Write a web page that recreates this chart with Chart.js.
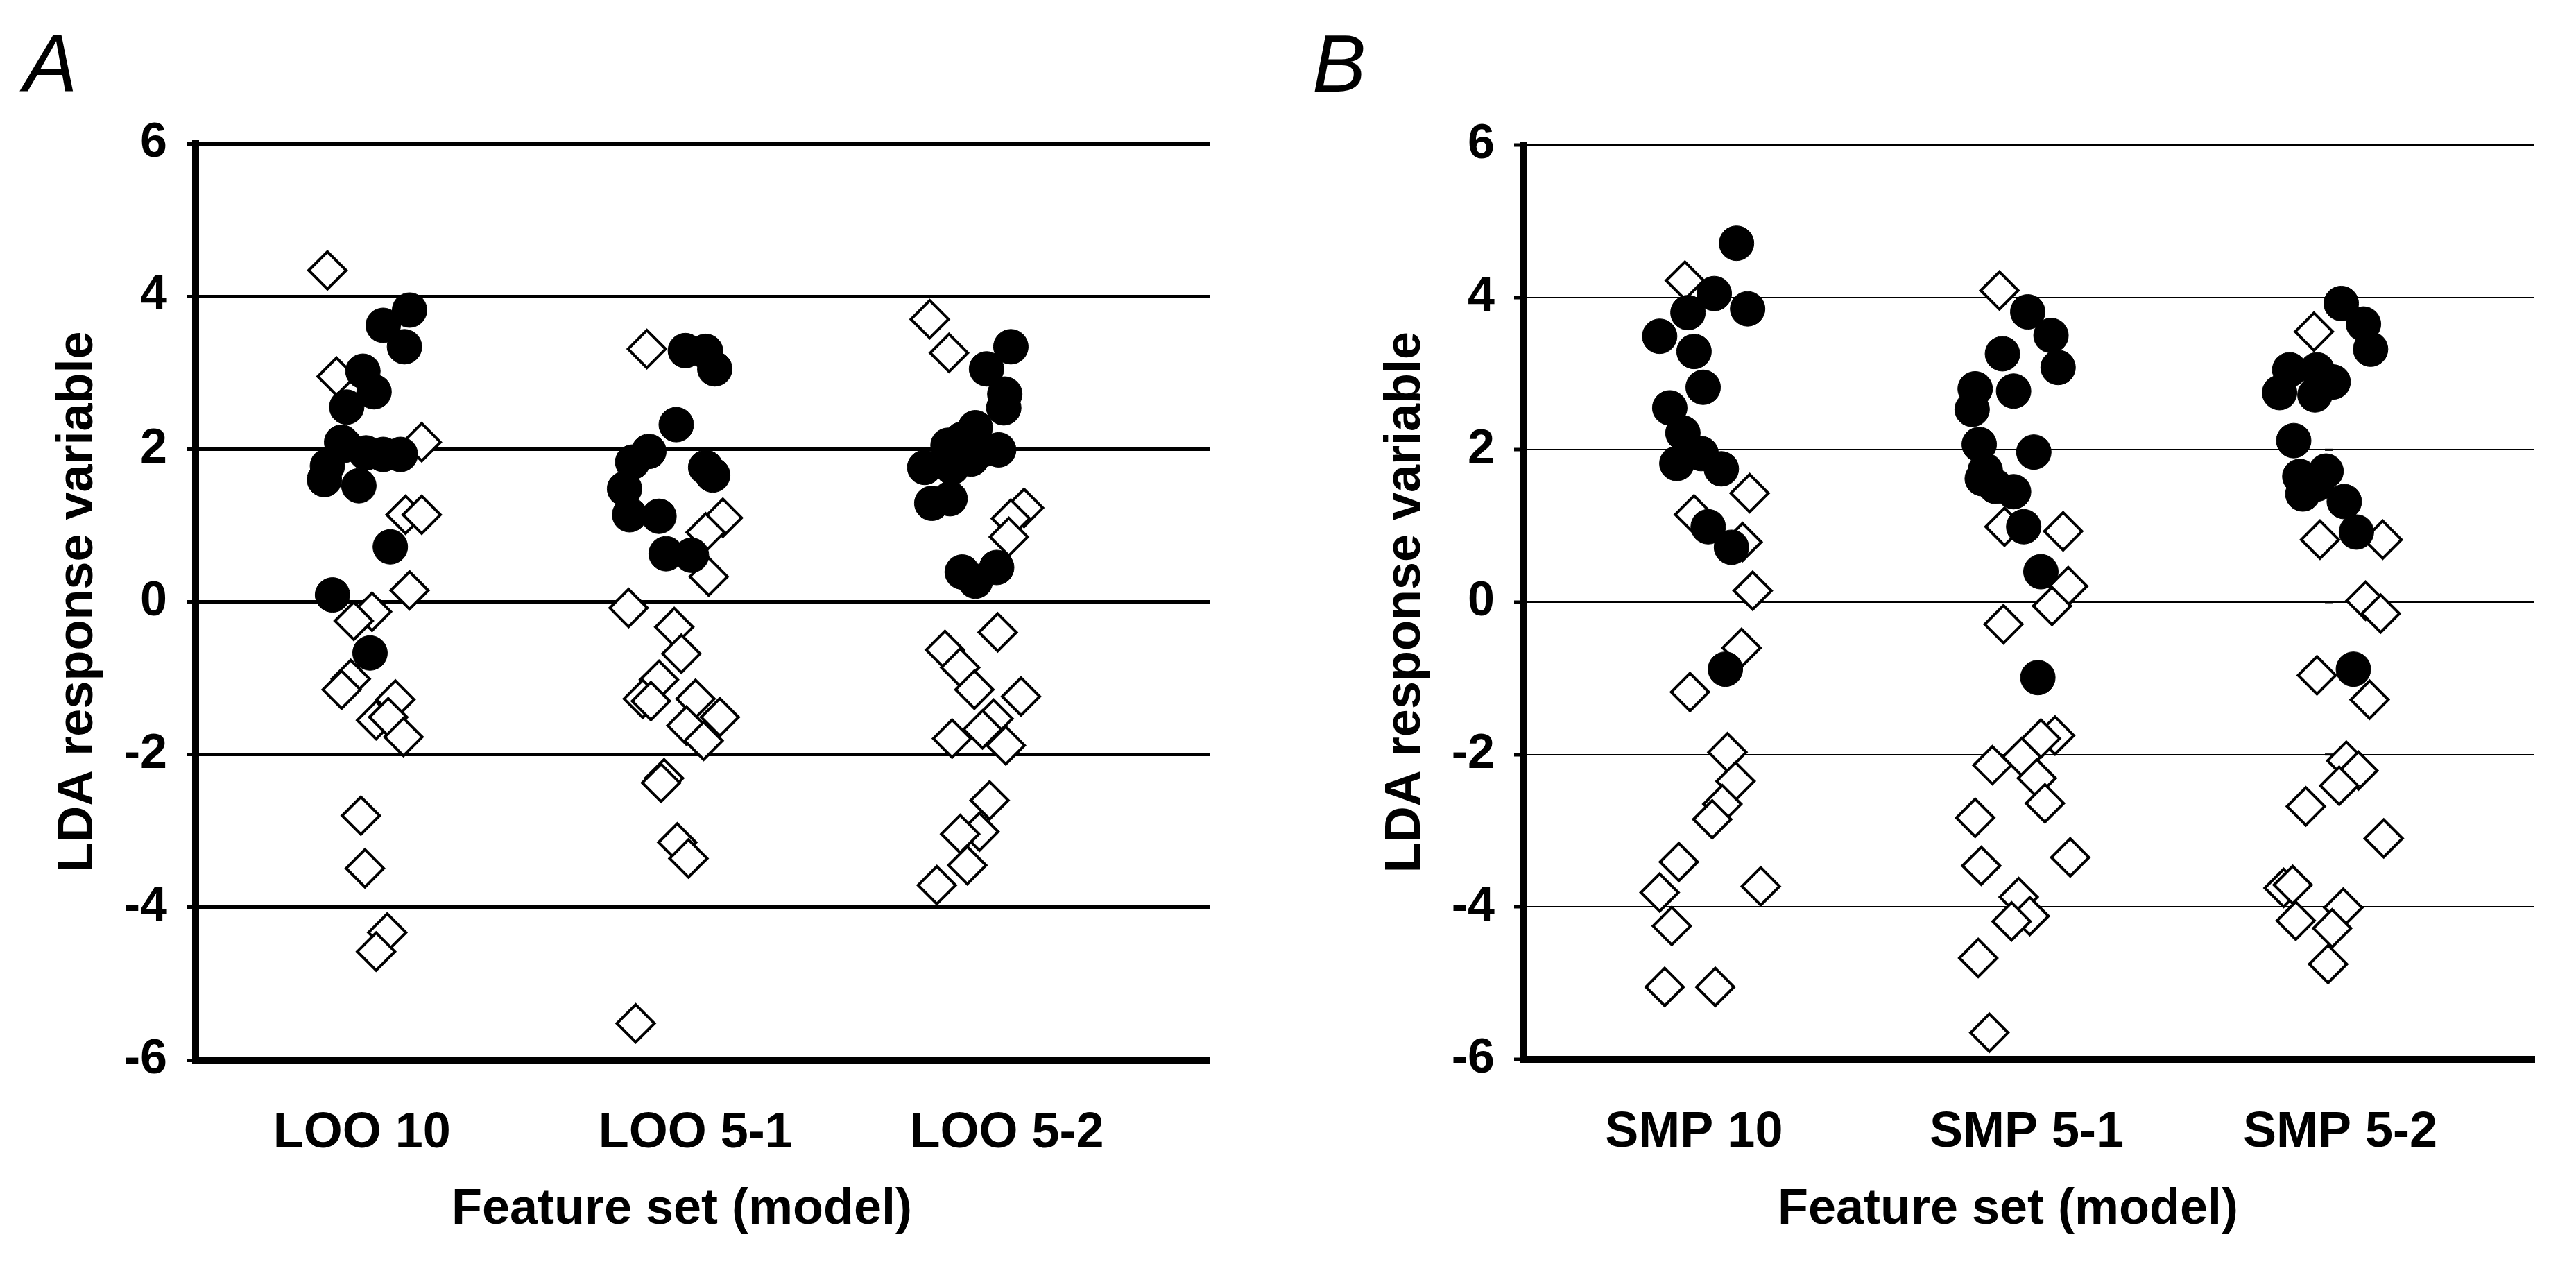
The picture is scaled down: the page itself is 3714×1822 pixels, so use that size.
<!DOCTYPE html>
<html>
<head>
<meta charset="utf-8">
<script src="https://cdn.jsdelivr.net/npm/chart.js@4.4.1/dist/chart.umd.min.js"></script>
<style>
  html, body { margin: 0; padding: 0; background: #fff; }
  body { width: 3714px; height: 1822px; position: relative; overflow: hidden; }
  canvas { position: absolute; top: 0; }
  #cA { left: 0; }
  #cB { left: 1857px; }
  .panel { position: absolute; top: 34px; font-family: "Liberation Sans", Arial, sans-serif;
           font-style: italic; font-size: 116px; line-height: 116px; color: #000; }
</style>
</head>
<body>
<div class="panel" style="left:34px">A</div>
<div class="panel" style="left:1892px">B</div>
<canvas id="cA" width="1857" height="1822"></canvas>
<canvas id="cB" width="1857" height="1822"></canvas>
<script>
// ---------- data ----------
const categoriesA = ['LOO 10', 'LOO 5-1', 'LOO 5-2'];
const categoriesB = ['SMP 10', 'SMP 5-1', 'SMP 5-2'];
const catPosA = [1.64, 4.93, 8.00];
const catPosB = [1.69, 4.98, 8.08];
const yTickValues = [-6, -4, -2, 0, 2, 4, 6];

// [jittered x position, LDA response]
const loo10Filled = [[2.11,3.82],[1.85,3.62],[2.06,3.34],[1.65,3.02],[1.76,2.75],[1.49,2.55],[1.44,2.09],
  [1.47,2.05],[1.68,1.95],[1.85,1.93],[2.02,1.93],[1.30,1.78],[1.27,1.60],[1.61,1.52],[1.92,0.72],[1.35,0.09],[1.72,-0.67]];
const loo10Open = [[1.30,4.34],[1.39,2.95],[2.23,2.09],[2.07,1.14],[2.23,1.14],[2.11,0.15],[1.74,-0.13],[1.56,-0.25],
  [1.53,-1.01],[1.44,-1.15],[1.97,-1.28],[1.78,-1.55],[1.90,-1.51],[2.05,-1.77],[1.63,-2.80],[1.67,-3.49],[1.89,-4.33],[1.78,-4.58]];
const loo51Filled = [[4.83,3.29],[5.03,3.28],[5.12,3.05],[4.74,2.32],[4.47,1.97],[4.31,1.83],[5.03,1.76],[5.10,1.66],
  [4.23,1.48],[4.28,1.14],[4.57,1.12],[4.64,0.63],[4.89,0.61]];
const loo51Open = [[4.45,3.31],[5.20,1.10],[5.03,0.91],[5.06,0.33],[4.27,-0.08],[4.72,-0.33],[4.79,-0.68],[4.57,-1.02],
  [4.41,-1.27],[4.49,-1.30],[4.93,-1.27],[5.17,-1.51],[4.84,-1.62],[5.01,-1.82],[4.62,-2.31],[4.59,-2.37],[4.75,-3.15],[4.86,-3.36],[4.34,-5.52]];
const loo52Filled = [[8.04,3.34],[7.80,3.05],[7.98,2.72],[7.97,2.54],[7.69,2.28],[7.56,2.13],[7.92,1.99],[7.42,2.05],
  [7.19,1.76],[7.46,1.76],[7.65,1.87],[7.76,1.99],[7.26,1.29],[7.44,1.35],[7.56,0.39],[7.69,0.27],[7.90,0.45]];
const loo52Open = [[7.24,3.70],[7.43,3.26],[8.17,1.23],[8.04,1.09],[8.02,0.85],[7.91,-0.40],[7.39,-0.63],[7.54,-0.86],
  [7.68,-1.15],[8.14,-1.24],[7.87,-1.53],[7.76,-1.67],[7.46,-1.79],[7.99,-1.88],[7.83,-2.60],[7.73,-3.01],[7.54,-3.04],[7.61,-3.45],[7.31,-3.71]];

const smp10Filled = [[2.11,4.71],[1.89,4.05],[2.22,3.85],[1.63,3.80],[1.35,3.49],[1.69,3.29],[1.78,2.82],[1.45,2.55],
  [1.58,2.22],[1.76,1.95],[1.52,1.82],[1.96,1.75],[1.83,0.99],[2.06,0.72],[2.00,-0.88]];
const smp10Open = [[1.60,4.22],[2.24,1.43],[1.69,1.15],[2.17,0.79],[2.27,0.15],[2.16,-0.60],[1.65,-1.18],[2.02,-1.97],
  [2.10,-2.35],[1.97,-2.65],[1.87,-2.85],[1.54,-3.41],[2.35,-3.73],[1.35,-3.81],[1.47,-4.25],[1.40,-5.05],[1.90,-5.05]];
const smp51Filled = [[4.99,3.81],[5.22,3.50],[4.74,3.26],[5.29,3.08],[4.85,2.77],[4.47,2.80],[4.44,2.53],[4.51,2.07],
  [5.05,1.97],[4.57,1.73],[4.54,1.62],[4.67,1.52],[4.85,1.45],[4.95,0.99],[5.12,0.40],[5.09,-0.99]];
const smp51Open = [[4.71,4.09],[5.34,0.93],[4.76,0.99],[5.39,0.21],[5.23,-0.05],[4.75,-0.29],[5.26,-1.75],[5.12,-1.79],
  [4.93,-2.03],[4.64,-2.14],[5.08,-2.31],[5.16,-2.64],[4.47,-2.83],[5.41,-3.35],[4.53,-3.46],[4.90,-3.87],[5.01,-4.12],[4.83,-4.19],[4.50,-4.67],[4.61,-5.65]];
const smp52Filled = [[8.09,3.92],[8.31,3.65],[8.38,3.32],[7.58,3.05],[7.85,3.05],[7.48,2.75],[7.83,2.72],[8.01,2.89],
  [7.62,2.12],[7.94,1.72],[7.68,1.65],[7.85,1.55],[7.71,1.42],[8.12,1.32],[8.24,0.92],[8.21,-0.88]];
const smp52Open = [[7.82,3.55],[7.88,0.82],[8.50,0.82],[8.33,0.02],[8.48,-0.15],[7.85,-0.96],[8.37,-1.28],[8.14,-2.08],
  [8.26,-2.21],[8.07,-2.41],[7.74,-2.68],[8.51,-3.10],[7.52,-3.75],[7.61,-3.71],[8.11,-4.01],[7.64,-4.18],[8.00,-4.28],[7.96,-4.75]];
const smpStrayMarks = [[7.97,6],[7.97,2],[7.97,0],[7.97,-2]];

// ---------- chart builder ----------
const FONT = '"Liberation Sans", Arial, sans-serif';
const toXY = arr => arr.map(p => ({ x: p[0], y: p[1] }));

function makeChart(id, cfg) {
  const datasets = [
    { label: 'filled', data: toXY([].concat(...cfg.filled)), pointStyle: 'circle', pointRadius: 25,
      backgroundColor: '#000', borderColor: '#000', borderWidth: 1 },
    { label: 'open', data: toXY([].concat(...cfg.open)), pointStyle: 'rectRot', pointRadius: 27,
      backgroundColor: '#fff', borderColor: '#000', borderWidth: 4 }
  ];
  if (cfg.marks) {
    datasets.push({ label: 'marks', data: toXY(cfg.marks), pointStyle: 'line', pointRadius: 6,
      backgroundColor: '#000', borderColor: '#000', borderWidth: 3 });
  }
  return new Chart(document.getElementById(id), {
    type: 'scatter',
    data: { datasets },
    options: {
      responsive: false,
      devicePixelRatio: 1,
      animation: false,
      events: [],
      layout: { padding: { top: cfg.top, right: cfg.right, left: 0, bottom: 0 } },
      plugins: { legend: { display: false }, tooltip: { enabled: false } },
      scales: {
        x: {
          type: 'linear', min: 0, max: 10,
          afterFit: s => { s.height = 1822 - cfg.bottom; },
          afterBuildTicks: s => { s.ticks = cfg.catPos.map(v => ({ value: v })); },
          grid: { display: false, drawTicks: false },
          border: { display: true, color: '#000', width: 10 },
          ticks: {
            autoSkip: false, maxRotation: 0, padding: 63, color: '#000',
            font: { family: FONT, size: 72, weight: 'bold' },
            callback: (v, i) => cfg.categories[i]
          },
          title: {
            display: true, text: 'Feature set (model)\u00a0\u00a0\u00a0', color: '#000',
            font: { family: FONT, size: 72, weight: 'bold' },
            padding: { top: 0, bottom: 35 }
          }
        },
        y: {
          min: -6, max: 6,
          afterFit: s => { s.width = cfg.axisLeft; },
          afterBuildTicks: s => { s.ticks = yTickValues.map(v => ({ value: v })); },
          grid: { color: '#000', lineWidth: cfg.gridWidth, tickLength: 13, drawTicks: true,
                  tickColor: '#000', tickWidth: 5 },
          border: { display: true, color: '#000', width: 10 },
          ticks: { padding: 28, color: '#000', font: { family: FONT, size: 70, weight: 'bold' },
                   callback: v => String(v) },
          title: {
            display: true, text: 'LDA response variable', color: '#000',
            font: { family: FONT, size: 72, weight: 'bold' },
            padding: { top: cfg.titlePad, bottom: 0 }
          }
        }
      }
    }
  });
}

makeChart('cA', {
  categories: categoriesA, catPos: catPosA,
  filled: [loo10Filled, loo51Filled, loo52Filled],
  open: [loo10Open, loo51Open, loo52Open],
  top: 207, bottom: 1528, right: 113, axisLeft: 282, titlePad: 70, gridWidth: 5
});
makeChart('cB', {
  categories: categoriesB, catPos: catPosB,
  filled: [smp10Filled, smp51Filled, smp52Filled],
  open: [smp10Open, smp51Open, smp52Open],
  marks: smpStrayMarks,
  top: 209, bottom: 1527, right: 60, axisLeft: 339, titlePad: 127, gridWidth: 2
});
</script>
</body>
</html>
